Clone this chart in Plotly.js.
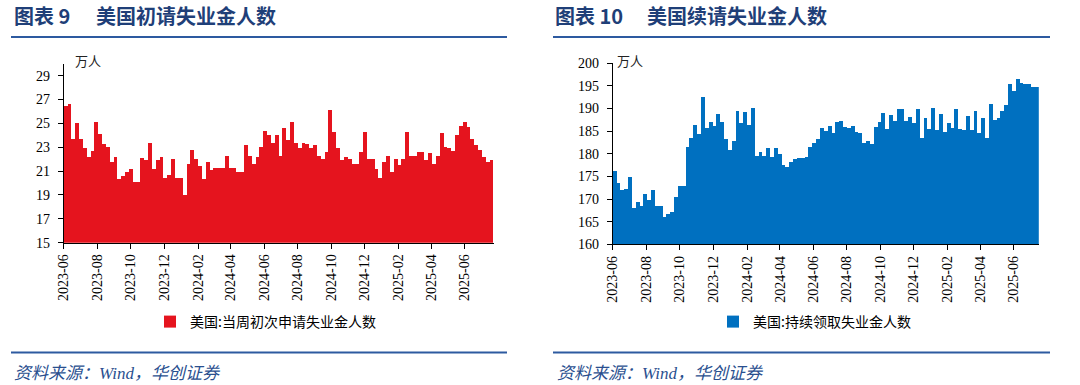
<!DOCTYPE html>
<html><head><meta charset="utf-8">
<script src="https://cdn.plot.ly/plotly-3.0.1.min.js"></script>
<style>html,body{margin:0;padding:0;background:#fff}#chart{width:1080px;height:385px}</style>
</head><body><div id="chart"></div>
<script>
// ---- data (万人), weekly ----
const initialStart = '2023-06-10';
const initialClaims = [
 26.5, 26.6, 23.7, 25.0, 23.7, 22.9, 22.2, 22.7, 25.1, 24.1,
 23.3, 23.0, 21.8, 22.2, 20.3, 20.6, 20.9, 21.2, 20.1, 20.1,
 22.1, 21.9, 23.4, 21.2, 21.9, 22.2, 20.4, 20.7, 22.0, 20.4,
 20.4, 19.0, 21.6, 22.8, 22.0, 21.4, 20.3, 21.8, 21.1, 21.3,
 21.3, 21.3, 22.3, 21.3, 21.3, 20.9, 20.9, 23.2, 22.3, 21.6,
 22.2, 23.0, 24.4, 24.0, 23.4, 24.0, 22.3, 24.6, 23.6, 25.1,
 23.4, 22.9, 23.4, 23.3, 22.9, 23.2, 22.3, 22.0, 22.6, 26.1,
 24.3, 22.9, 21.9, 22.2, 22.0, 21.6, 21.6, 22.6, 24.3, 22.0,
 22.0, 21.2, 20.4, 21.8, 22.3, 20.9, 22.0, 21.5, 22.0, 24.3,
 22.3, 22.3, 22.6, 22.6, 21.9, 22.5, 21.6, 22.3, 24.2, 23.0,
 22.9, 22.7, 24.0, 24.8, 25.1, 24.7, 23.7, 23.2, 22.8, 22.2, 21.8, 21.9
];
const continuingStart = '2023-06-10';
const continuingClaims = [
 176.2, 173.5, 172.1, 172.3, 174.9, 168.1, 169.3, 168.5, 171.1, 169.8,
 172.0, 168.5, 168.5, 166.0, 166.6, 167.2, 170.5, 172.9, 172.9, 181.4,
 183.5, 186.4, 184.4, 192.6, 185.7, 186.9, 186.2, 188.7, 187.1, 183.2,
 180.8, 182.9, 189.5, 186.7, 189.2, 186.3, 190.0, 179.6, 180.4, 179.6,
 181.2, 179.2, 181.2, 180.0, 177.5, 177.1, 178.2, 178.8, 179.0, 179.1,
 179.3, 181.4, 182.3, 183.3, 185.7, 185.0, 186.2, 184.5, 187.1, 187.3,
 186.0, 185.6, 186.2, 184.9, 184.6, 182.3, 182.9, 182.1, 186.0, 187.1,
 188.9, 185.4, 188.5, 187.3, 189.9, 189.9, 187.2, 188.1, 186.7, 189.9,
 183.5, 187.9, 185.4, 190.1, 185.2, 188.8, 184.9, 186.8, 185.6, 189.9,
 185.4, 185.2, 188.3, 185.2, 189.5, 184.6, 187.8, 183.5, 191.0, 187.4,
 187.8, 189.5, 190.7, 195.3, 193.9, 196.5, 195.7, 195.5, 195.3, 194.8, 194.8
];
const initialName = '美国:当周初次申请失业金人数';
const continuingName = '美国:持续领取失业金人数';
const leftTitleNo = '图表 9', leftTitle = '美国初请失业金人数';
const rightTitleNo = '图表 10', rightTitle = '美国续请失业金人数';
const unitLabel = '万人';
const sourceText = '资料来源：Wind，华创证券';

// weekly date categories
const DAY = 86400000, WEEK = 7 * DAY;
function weekDates(start, n) {
  const t0 = Date.parse(start + 'T00:00:00Z');
  const out = [];
  for (let i = 0; i < n; i++) out.push(new Date(t0 + i * WEEK).toISOString().slice(0, 10));
  return out;
}
const xInit = weekDates(initialStart, initialClaims.length);
const xCont = weekDates(continuingStart, continuingClaims.length);
function endOf(dates) { return new Date(Date.parse(dates[dates.length - 1] + 'T00:00:00Z') + WEEK).toISOString().slice(0, 10); }

const W = 1080, H = 385;
const px = x => x / W, py = y => 1 - y / H;

const tickFont = {family: 'Liberation Serif, Times New Roman, serif', size: 14, color: '#000'};
function xAxis(domain, anchor, start, end) {
  return {domain, anchor, type: 'date', range: [start + ' 00:00:00', end],
    tick0: start, dtick: 'M2', tickformat: '%Y-%m', tickangle: -90,
    ticks: 'outside', ticklen: 5, tickwidth: 1, tickcolor: '#000',
    showline: true, linecolor: '#000', linewidth: 1, showgrid: false, zeroline: false,
    tickfont: tickFont, fixedrange: true};
}
function yAxis(domain, anchor, range, dtick) {
  return {domain, anchor, range, tick0: range[0], dtick,
    ticks: 'outside', ticklen: 5, tickwidth: 1, tickcolor: '#000',
    showline: true, linecolor: '#000', linewidth: 1, showgrid: false, zeroline: false,
    tickfont: tickFont, ticklabelstandoff: 5, fixedrange: true};
}

const traces = [
  {type: 'bar', x: xInit, y: initialClaims, name: initialName, xaxis: 'x', yaxis: 'y',
   width: WEEK, offset: 0, marker: {color: '#E5141E', line: {width: 0}}, legend: 'legend', hoverinfo: 'x+y'},
  {type: 'bar', x: xCont, y: continuingClaims, name: continuingName, xaxis: 'x2', yaxis: 'y2',
   width: WEEK, offset: 0, marker: {color: '#0070C0', line: {width: 0}}, legend: 'legend2', hoverinfo: 'x+y'}
];

const titleFont = {family: 'Noto Sans CJK SC, sans-serif', size: 20, color: '#1F3F78', weight: 700};
const legendFont = {family: 'Noto Sans CJK SC, sans-serif', size: 14, color: '#000'};
const srcFont = {family: 'Liberation Serif, Noto Sans CJK SC, serif', size: 17, color: '#2A4F8F', style: 'italic'};
const unitFont = {family: 'Noto Sans CJK SC, sans-serif', size: 13, color: '#222'};

const ann = (x, y, text, font, xanchor) => ({xref: 'paper', yref: 'paper', x: px(x), y: py(y), text, font,
  showarrow: false, xanchor: xanchor || 'left', yanchor: 'middle'});

const hline = (x0, x1, y) => ({type: 'line', xref: 'paper', yref: 'paper', x0: px(x0), x1: px(x1), y0: py(y), y1: py(y),
  line: {color: '#2D5AA0', width: 2}});

const layout = {
  width: W, height: H, margin: {l: 0, r: 0, t: 0, b: 0},
  paper_bgcolor: '#fff', plot_bgcolor: 'rgba(0,0,0,0)', bargap: 0, showlegend: true,
  xaxis: xAxis([px(63.7), px(493.5)], 'y', initialStart, endOf(xInit)),
  yaxis: yAxis([py(242.7), py(63.8)], 'x', [15, 30], 2),
  xaxis2: xAxis([px(612.7), px(1038.8)], 'y2', continuingStart, endOf(xCont)),
  yaxis2: yAxis([py(244.4), py(63.1)], 'x2', [160, 200], 5),
  legend: {x: px(150), y: py(322), xanchor: 'left', yanchor: 'middle', orientation: 'h', font: legendFont,
    bgcolor: 'rgba(0,0,0,0)', itemwidth: 30, itemclick: false, itemdoubleclick: false},
  legend2: {x: px(713), y: py(322), xanchor: 'left', yanchor: 'middle', orientation: 'h', font: legendFont,
    bgcolor: 'rgba(0,0,0,0)', itemwidth: 30, itemclick: false, itemdoubleclick: false},
  annotations: [
    ann(12, 15, leftTitleNo, titleFont),
    ann(94, 15, leftTitle, titleFont),
    ann(553, 15, rightTitleNo, titleFont),
    ann(645, 15, rightTitle, titleFont),
    ann(87.5, 60, unitLabel, unitFont, 'center'),
    ann(630, 60, unitLabel, unitFont, 'center'),
    ann(12, 373, sourceText, srcFont),
    ann(555, 373, sourceText, srcFont)
  ],
  shapes: [hline(11, 507, 37), hline(553, 1050, 37), hline(11, 507, 352.5), hline(553, 1050, 352.5)]
};

Plotly.newPlot('chart', traces, layout, {displayModeBar: false, staticPlot: true});
</script>
</body></html>
